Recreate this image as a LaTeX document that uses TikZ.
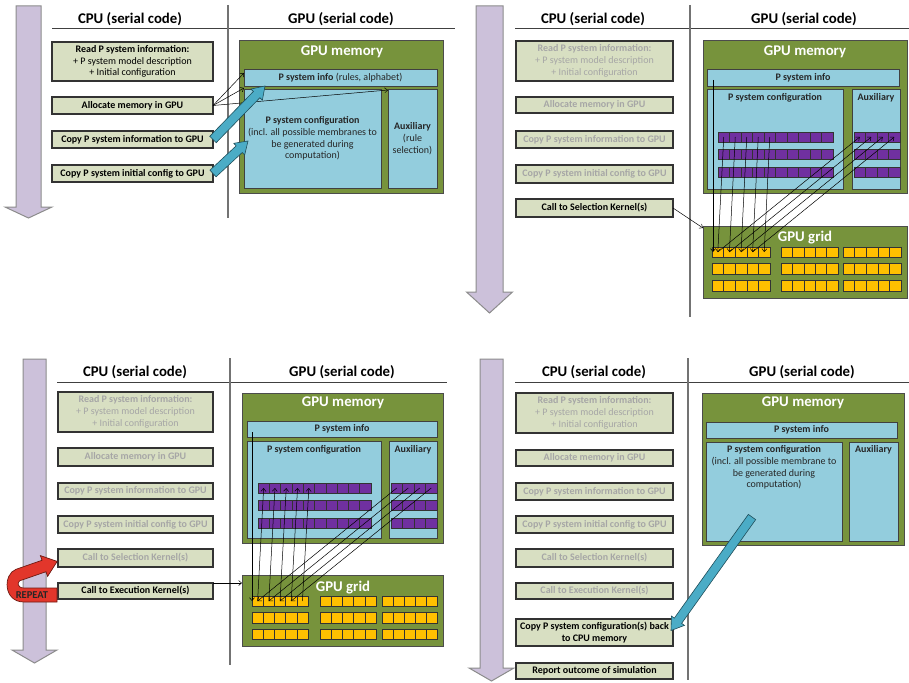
\documentclass[tikz,border=0pt]{standalone}
\usepackage{fontspec}
\setmainfont{Carlito}
\usetikzlibrary{arrows.meta,calc}

\definecolor{memgreen}{HTML}{77933C}
\definecolor{regionblue}{HTML}{93CDDD}
\definecolor{cpufill}{HTML}{D8DFC2}
\definecolor{fadetext}{HTML}{A6A6A6}
\definecolor{cellpurple}{HTML}{7030A0}
\definecolor{cellyellow}{HTML}{FFC000}
\definecolor{timefill}{HTML}{CCC1DA}
\definecolor{timeline}{HTML}{8C8C8C}
\definecolor{copyfill}{HTML}{4BACC6}
\definecolor{copyline}{HTML}{1F4E5A}
\definecolor{repeatfill}{HTML}{E2362B}
\definecolor{repeatline}{HTML}{6E1A12}

% rectangle node from its corners: style, name, x1, y1, x2, y2, text
\newcommand\areanode[7]{%
  \pgfmathsetmacro\anw{#5-#3}\pgfmathsetmacro\anh{#6-#4}%
  \node[#1, anchor=north west, minimum width=\anw pt, minimum height=\anh pt] (#2) at (#3,#4) {#7};}

% row of equal cells: style, name prefix, x1, y1, x2, y2, count
\newcommand\cellrow[7]{%
  \pgfmathsetmacro\crw{(#5-#3)/#7}\pgfmathsetmacro\crh{#6-#4}%
  \foreach \k in {1,...,#7}{%
    \pgfmathsetmacro\crx{#3+(\k-1)*\crw}%
    \node[#1, anchor=north west, minimum width=\crw pt, minimum height=\crh pt] (#2-\k) at (\crx,#4) {};}}

% block arrow for memory copies: name, tail, tip
\newcommand\fatarrow[3]{%
  \coordinate (#1-h) at ($(#3)!12pt!(#2)$);
  \path[copyarrow] ($(#2)!4.5pt!90:(#3)$) -- ($(#1-h)!4.5pt!90:(#3)$)
    -- ($(#1-h)!8pt!90:(#3)$) -- (#3) -- ($(#1-h)!8pt!-90:(#3)$)
    -- ($(#1-h)!4.5pt!-90:(#3)$) -- ($(#2)!4.5pt!-90:(#3)$) -- cycle;}

% time axis: shaft left, shaft right, top, head base, tip, head half width
\newcommand\timeaxis[6]{%
  \pgfmathsetmacro\tac{(#1+#2)/2}%
  \path[timeaxisstyle] (#1,#3) -- (#2,#3) -- (#2,#4) -- (\tac+#6,#4) -- (\tac,#5)
    -- (\tac-#6,#4) -- (#1,#4) -- cycle;}

\begin{document}
\begin{tikzpicture}[x=1pt,y=-1pt,
  every node/.style={inner sep=0pt, outer sep=0pt},
  cpubox/.style={draw=black!80, line width=1.1pt, fill=cpufill, align=center,
    font=\fontsize{10}{11.8}\selectfont},
  faded/.style={cpubox, text=fadetext},
  active/.style={cpubox, text=black},
  header/.style={font=\fontsize{14.8}{16}\selectfont\bfseries},
  memarea/.style={fill=memgreen, draw=black!70, line width=1pt},
  memtitle/.style={text=white, font=\fontsize{14.8}{16}\selectfont\bfseries},
  region/.style={fill=regionblue, draw=black!75, line width=0.8pt, align=center,
    text=black!85, font=\fontsize{10}{11.8}\selectfont},
  regtext/.style={align=center, text=black!85, font=\fontsize{10}{11.8}\selectfont},
  pcell/.style={fill=cellpurple, draw=black!80, line width=0.5pt},
  ycell/.style={fill=cellyellow, draw=black!80, line width=0.5pt},
  link/.style={draw=black, line width=0.5pt, -{Straight Barb[length=3pt,width=5pt]}},
  divider/.style={draw=black!55, line width=1.2pt},
  rulestyle/.style={draw=black!75, line width=1pt},
  timeaxisstyle/.style={fill=timefill, draw=timeline, line width=1pt},
  copyarrow/.style={fill=copyfill, draw=copyline, line width=0.6pt},
]
\useasboundingbox (0,0) rectangle (909,682);

%%%%%%%%%%%%%%%% Step 1: allocation and copies %%%%%%%%%%%%%%%%
\timeaxis{16}{41}{6}{207}{218}{23.5}
\node[header] (p1cpu) at (130,19) {CPU (serial code)};
\node[header] (p1gpu) at (341,19) {GPU (serial code)};
\draw[rulestyle] (52,29) -- (455,29);
\draw[divider] (228,5) -- (228,218);

\areanode{active}{p1read}{52}{42}{213}{81}{\textbf{Read P system information:}\\+ P system model description\\+ Initial configuration}
\areanode{active}{p1alloc}{52}{97}{213}{114}{\textbf{Allocate memory in GPU}}
\areanode{active}{p1cinfo}{52}{131}{213}{148}{\textbf{Copy P system information to GPU}}
\areanode{active}{p1cinit}{52}{165}{213}{182}{\textbf{Copy P system initial config to GPU}}

\areanode{memarea}{p1mem}{239}{41}{443}{193}{}
\node[memtitle] (p1memt) at (342,52) {GPU memory};
\areanode{region}{p1info}{244}{69}{437}{86}{\textbf{P system info} (rules, alphabet)}
\areanode{region}{p1cfg}{244}{89}{381}{188}{\textbf{P system configuration}\\(incl. all possible membranes to\\be generated during\\computation)}
\areanode{region}{p1aux}{388}{89}{437}{188}{\textbf{Auxiliary}\\(rule\\selection)}

\draw[link] (p1alloc.east) -- ($(p1info.north west)+(0,4)$);
\draw[link] (p1alloc.east) -- ($(p1info.south west)+(0,2)$);
\draw[link] (p1alloc.east) -- ($(p1aux.north west)+(0,1)$);
\coordinate (p1tipA) at (265,86);
\coordinate (p1tipB) at (248,141);
\fatarrow{p1fa}{p1cinfo.east}{p1tipA}
\fatarrow{p1fb}{p1cinit.east}{p1tipB}

%%%%%%%%%%%%%%%% Step 2: selection kernel %%%%%%%%%%%%%%%%
\timeaxis{476}{503}{6}{292}{313}{23}
\node[header] (p2cpu) at (593,19) {CPU (serial code)};
\node[header] (p2gpu) at (804,19) {GPU (serial code)};
\draw[rulestyle] (515,29) -- (909,29);
\draw[divider] (690,5) -- (690,317);

\areanode{faded}{p2read}{516}{41}{673}{81}{\textbf{Read P system information:}\\+ P system model description\\+ Initial configuration}
\areanode{faded}{p2alloc}{516}{97}{673}{113}{\textbf{Allocate memory in GPU}}
\areanode{faded}{p2cinfo}{516}{131}{673}{148}{\textbf{Copy P system information to GPU}}
\areanode{faded}{p2cinit}{516}{165}{673}{183}{\textbf{Copy P system initial config to GPU}}
\areanode{active}{p2sel}{516}{199}{673}{217}{\textbf{Call to Selection Kernel(s)}}

\areanode{memarea}{p2mem}{703}{41}{907}{193}{}
\node[memtitle] (p2memt) at (805,52) {GPU memory};
\areanode{region}{p2info}{707}{69}{899}{86}{\textbf{P system info}}
\areanode{region}{p2cfg}{707}{89}{843}{189}{}
\areanode{region}{p2aux}{852}{89}{900}{189}{}
\node[regtext, anchor=north] (p2cfgt) at ($(p2cfg.north)+(0,4)$) {\textbf{P system configuration}};
\node[regtext, anchor=north] (p2auxt) at ($(p2aux.north)+(0,4)$) {\textbf{Auxiliary}};
\foreach \r/\ya/\yb in {1/132/142, 2/149/159, 3/167/177}{
  \cellrow{pcell}{p2c\r}{718}{\ya}{833}{\yb}{10}
  \cellrow{pcell}{p2a\r}{854}{\ya}{900}{\yb}{4}
}
\areanode{memarea}{p2grid}{703}{226}{907}{298}{}
\node[memtitle] (p2gridt) at (805,238) {GPU grid};
\foreach \g/\xa/\xb in {1/712/770, 2/781/838, 3/843/901}{
  \foreach \r/\ya/\yb in {1/247/257, 2/263/274, 3/280/291}{
    \cellrow{ycell}{p2y\g\r}{\xa}{\ya}{\xb}{\yb}{5}
  }
}
\draw[link] (p2sel.east) -- ($(p2grid.north west)+(0,2)$);
\coordinate (p2tap) at (713,80);
\draw[link] (p2tap) -- (p2tap |- p2y11-1.center);
\foreach \k in {1,...,5}{\draw[link] (p2c1-\k.center) -- (p2y11-\k.center);}
\foreach \k in {1,...,4}{\draw[link] (p2y11-\k.center) -- (p2a1-\k.center);}

%%%%%%%%%%%%%%%% Step 3: execution kernel, repeated %%%%%%%%%%%%%%%%
\timeaxis{23}{46}{359}{650}{663}{22.5}
\node[header] (p3cpu) at (135,372) {CPU (serial code)};
\node[header] (p3gpu) at (342,372) {GPU (serial code)};
\draw[rulestyle] (57,382) -- (447,382);
\draw[divider] (230,358) -- (230,665);

\areanode{faded}{p3read}{58}{392}{213}{432}{\textbf{Read P system information:}\\+ P system model description\\+ Initial configuration}
\areanode{faded}{p3alloc}{58}{448}{213}{466}{\textbf{Allocate memory in GPU}}
\areanode{faded}{p3cinfo}{58}{483}{213}{499}{\textbf{Copy P system information to GPU}}
\areanode{faded}{p3cinit}{58}{516}{213}{533}{\textbf{Copy P system initial config to GPU}}
\areanode{faded}{p3sel}{58}{549}{213}{567}{\textbf{Call to Selection Kernel(s)}}
\areanode{active}{p3exec}{58}{583}{213}{599}{\textbf{Call to Execution Kernel(s)}}

% loop back to the selection step
\path[fill=repeatfill, draw=repeatline, line width=0.7pt]
  (57,602) -- (24,602) .. controls (3,602) and (3,574) .. (16,569.3)
  -- (42,560.3) -- (40.4,555.6) -- (57.2,561.4) -- (47.6,576.4) -- (46,571.7)
  -- (20,580.7) .. controls (17,582) and (17,588) .. (24,588) -- (57,588) -- cycle;
\node[font=\fontsize{10.5}{12}\selectfont\bfseries, text=black!85] (p3repeat) at (32,595) {REPEAT};

\areanode{memarea}{p3mem}{242}{393}{443}{543}{}
\node[memtitle] (p3memt) at (343,403) {GPU memory};
\areanode{region}{p3info}{247}{421}{437}{437}{\textbf{P system info}}
\areanode{region}{p3cfg}{247}{441}{381}{538}{}
\areanode{region}{p3aux}{389}{441}{437}{538}{}
\node[regtext, anchor=north] (p3cfgt) at ($(p3cfg.north)+(0,4)$) {\textbf{P system configuration}};
\node[regtext, anchor=north] (p3auxt) at ($(p3aux.north)+(0,4)$) {\textbf{Auxiliary}};
\foreach \r/\ya/\yb in {1/483/493, 2/500/510, 3/518/528}{
  \cellrow{pcell}{p3c\r}{258}{\ya}{371}{\yb}{10}
  \cellrow{pcell}{p3a\r}{391}{\ya}{437}{\yb}{4}
}
\areanode{memarea}{p3grid}{242}{575}{443}{646}{}
\node[memtitle] (p3gridt) at (343,588) {GPU grid};
\foreach \g/\xa/\xb in {1/252/308, 2/320/376, 3/382/437}{
  \foreach \r/\ya/\yb in {1/596/606, 2/612/623, 3/629/639}{
    \cellrow{ycell}{p3y\g\r}{\xa}{\ya}{\xb}{\yb}{5}
  }
}
\draw[link] (p3exec.north east) -- (p3exec.north east -| p3grid.west);
\coordinate (p3tap) at (252,432);
\draw[link] (p3tap) -- (p3tap |- p3y11-1.center);
\foreach \k in {1,...,5}{\draw[link] (p3y11-\k.center) -- (p3c1-\k.center);}
\foreach \k in {1,...,4}{\draw[link] (p3a1-\k.center) -- (p3y11-\k.center);}

%%%%%%%%%%%%%%%% Step 4: copy back and report %%%%%%%%%%%%%%%%
\timeaxis{480}{503}{359}{668}{681}{22.5}
\node[header] (p4cpu) at (594,372) {CPU (serial code)};
\node[header] (p4gpu) at (802,372) {GPU (serial code)};
\draw[rulestyle] (515,382) -- (909,382);
\draw[divider] (688,358) -- (688,680);

\areanode{faded}{p4read}{516}{393}{673}{433}{\textbf{Read P system information:}\\+ P system model description\\+ Initial configuration}
\areanode{faded}{p4alloc}{516}{450}{673}{466}{\textbf{Allocate memory in GPU}}
\areanode{faded}{p4cinfo}{516}{483}{673}{500}{\textbf{Copy P system information to GPU}}
\areanode{faded}{p4cinit}{516}{516}{673}{533}{\textbf{Copy P system initial config to GPU}}
\areanode{faded}{p4sel}{516}{549}{673}{567}{\textbf{Call to Selection Kernel(s)}}
\areanode{faded}{p4exec}{516}{583}{673}{599}{\textbf{Call to Execution Kernel(s)}}
\areanode{active}{p4back}{516}{619}{673}{646}{\textbf{Copy P system configuration(s) back}\\\textbf{to CPU memory}}
\areanode{active}{p4report}{516}{663}{673}{679}{\textbf{Report outcome of simulation}}

\areanode{memarea}{p4mem}{702}{393}{904}{545}{}
\node[memtitle] (p4memt) at (803,403) {GPU memory};
\areanode{region}{p4info}{706}{422}{897}{438}{\textbf{P system info}}
\areanode{region}{p4cfg}{706}{442}{842}{541}{}
\areanode{region}{p4aux}{849}{442}{898}{541}{}
\node[regtext, anchor=north] (p4cfgt) at ($(p4cfg.north)+(0,3.5)$) {\textbf{P system configuration}\\(incl. all possible membrane to\\be generated during\\computation)};
\node[regtext, anchor=north] (p4auxt) at ($(p4aux.north)+(0,3.5)$) {\textbf{Auxiliary}};

\coordinate (p4src) at (752,517);
\coordinate (p4dst) at ($(p4back.east)+(-2,-2)$);
\fatarrow{p4fa}{p4src}{p4dst}

\end{tikzpicture}
\end{document}
